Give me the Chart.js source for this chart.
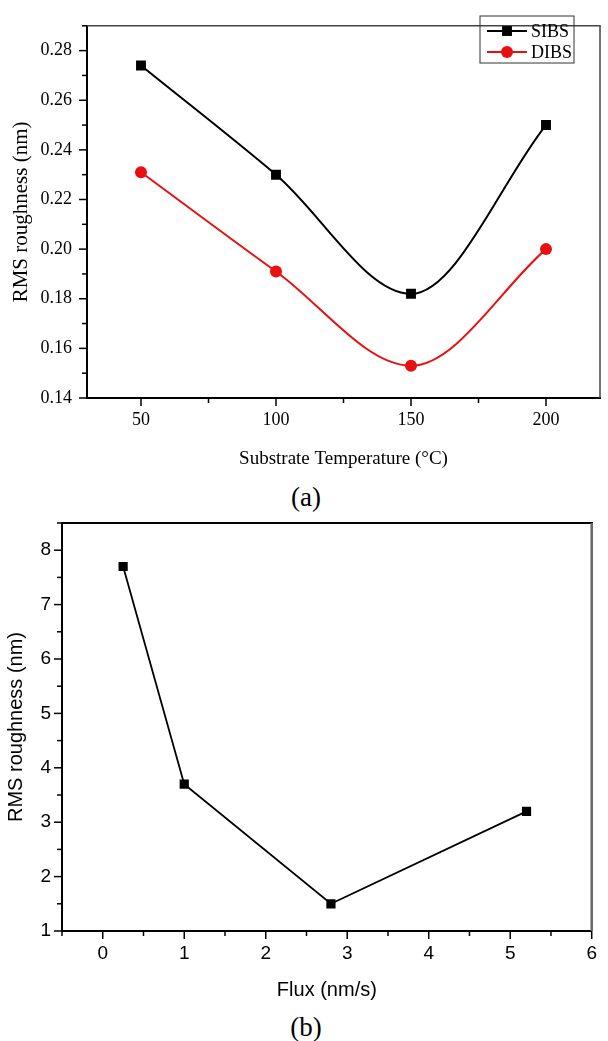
<!DOCTYPE html>
<html>
<head>
<meta charset="utf-8">
<script src="https://cdn.jsdelivr.net/npm/chart.js"></script>
<style>
  body { margin: 0; background: #fff; width: 608px; height: 1041px; position: relative; overflow: hidden; }
  canvas { position: absolute; left: 0; }
  .cap { position: absolute; left: 2px; width: 608px; text-align: center; color: #000;
         font-family: "Liberation Serif", serif; font-size: 27px; line-height: 30px; }
</style>
</head>
<body>
<canvas id="chartA" width="608" height="480" style="top:0"></canvas>
<div class="cap" style="top:482px">(a)</div>
<canvas id="chartB" width="608" height="510" style="top:500px"></canvas>
<div class="cap" style="top:1012px">(b)</div>

<script>
// (a) RMS roughness vs substrate temperature
var tempC = [50, 100, 150, 200];
var sibsRms = [0.274, 0.230, 0.182, 0.250];
var dibsRms = [0.231, 0.191, 0.153, 0.200];
var tempTicks = [50, 100, 150, 200];
var rmsTicksA = [0.14, 0.16, 0.18, 0.20, 0.22, 0.24, 0.26, 0.28];

// (b) RMS roughness vs flux
var flux = [0.25, 1, 2.8, 5.2];
var fluxRms = [7.7, 3.7, 1.5, 3.2];
var fluxTicks = [0, 1, 2, 3, 4, 5, 6];
var rmsTicksB = [1, 2, 3, 4, 5, 6, 7, 8];

var SERIF = '"Liberation Serif", "Times New Roman", serif';
var SANS = '"Liberation Sans", Arial, sans-serif';
var RED = '#e81010';

function toPoints(xs, ys) {
    return xs.map(function (x, i) { return {x: x, y: ys[i]}; });
}
function fixTicks(values) {
    return function (scale) {
        scale.ticks = values.map(function (v) { return {value: v}; });
    };
}
function fixWidth(w) {
    return function (scale) { scale.width = w; };
}
function fixHeight(h) {
    return function (scale) { scale.height = h; };
}

// box edges on top/right, plus outward major and minor tick marks
var frameAndTicks = {
    id: 'frameAndTicks',
    afterDraw: function (chart, args, opts) {
        var ctx = chart.ctx, a = chart.chartArea;
        ctx.save();
        ctx.lineWidth = opts.topWidth;
        ctx.strokeStyle = opts.topColor;
        ctx.beginPath(); ctx.moveTo(a.left, a.top); ctx.lineTo(a.right + opts.rightWidth / 2, a.top); ctx.stroke();
        ctx.lineWidth = opts.rightWidth;
        ctx.strokeStyle = opts.rightColor;
        ctx.beginPath(); ctx.moveTo(a.right, a.top); ctx.lineTo(a.right, a.bottom); ctx.stroke();

        ctx.strokeStyle = '#000';
        ctx.lineWidth = 1.5;
        ['x', 'y'].forEach(function (id) {
            var s = chart.scales[id];
            var px = s.ticks.map(function (t) { return s.getPixelForValue(t.value); });
            var marks = px.map(function (p) { return [p, 8]; });
            for (var i = 0; i < px.length - 1; i++) {
                marks.push([(px[i] + px[i + 1]) / 2, 5]);
            }
            var step = px[1] - px[0];
            marks.push([px[0] - step / 2, 5], [px[px.length - 1] + step / 2, 5]);
            marks.forEach(function (m) {
                ctx.beginPath();
                if (id === 'x') {
                    if (m[0] < a.left - 1 || m[0] > a.right + 1) return;
                    ctx.moveTo(m[0], a.bottom);
                    ctx.lineTo(m[0], a.bottom + m[1]);
                } else {
                    if (m[0] < a.top - 1 || m[0] > a.bottom + 1) return;
                    ctx.moveTo(a.left, m[0]);
                    ctx.lineTo(a.left - m[1], m[0]);
                }
                ctx.stroke();
            });
        });
        ctx.restore();
    }
};

// framed legend sitting inside the plot, top right
var boxLegend = {
    id: 'boxLegend',
    afterDraw: function (chart, args, opts) {
        if (!opts.show) return;
        var ctx = chart.ctx;
        ctx.save();
        ctx.strokeStyle = '#333';
        ctx.lineWidth = 1;
        ctx.strokeRect(opts.left, opts.top, opts.width, opts.height);
        ctx.font = opts.font;
        ctx.textBaseline = 'middle';
        ctx.textAlign = 'left';
        chart.data.datasets.forEach(function (ds, i) {
            var y = opts.top + opts.rowStart + i * opts.rowGap;
            var x0 = opts.left + 7, x1 = x0 + 40, xm = (x0 + x1) / 2;
            ctx.strokeStyle = ds.borderColor;
            ctx.fillStyle = ds.backgroundColor;
            ctx.lineWidth = ds.borderWidth;
            ctx.beginPath(); ctx.moveTo(x0, y); ctx.lineTo(x1, y); ctx.stroke();
            ctx.beginPath();
            if (ds.pointStyle === 'rect') {
                var h = ds.pointRadius * Math.SQRT1_2;
                ctx.rect(xm - h, y - h, 2 * h, 2 * h);
            } else {
                ctx.arc(xm, y, ds.pointRadius, 0, Math.PI * 2);
            }
            ctx.fill();
            ctx.fillStyle = '#000';
            ctx.fillText(ds.label, x1 + 4, y + 1);
        });
        ctx.restore();
    }
};

function axisFont(family, size) {
    return {family: family, size: size};
}

// Substrate temperature chart
var chartA = new Chart(document.getElementById('chartA'), {
    type: 'line',
    data: {
        datasets: [{
            label: 'SIBS',
            data: toPoints(tempC, sibsRms),
            borderColor: '#000',
            backgroundColor: '#000',
            borderWidth: 2,
            pointStyle: 'rect',
            pointRadius: 7,
            pointBorderWidth: 0,
            cubicInterpolationMode: 'monotone'
        }, {
            label: 'DIBS',
            data: toPoints(tempC, dibsRms),
            borderColor: RED,
            backgroundColor: RED,
            borderWidth: 2,
            pointStyle: 'circle',
            pointRadius: 6,
            pointBorderWidth: 0,
            cubicInterpolationMode: 'monotone'
        }]
    },
    options: {
        responsive: false,
        animation: false,
        devicePixelRatio: 1,
        layout: {padding: {left: 0, top: 8, right: 8, bottom: 0}},
        plugins: {
            legend: {display: false},
            tooltip: {enabled: false},
            frameAndTicks: {topColor: '#444', topWidth: 1.5, rightColor: '#444', rightWidth: 1.5},
            boxLegend: {show: true, left: 480, top: 16, width: 94, height: 47, rowStart: 15, rowGap: 21,
                        font: '18px ' + SERIF}
        },
        scales: {
            x: {
                type: 'linear',
                min: 30,
                max: 220,
                afterBuildTicks: fixTicks(tempTicks),
                afterFit: fixHeight(82),
                grid: {display: false, drawTicks: false},
                border: {color: '#000', width: 2},
                ticks: {padding: 11, color: '#000', maxRotation: 0, font: axisFont(SERIF, 18)},
                title: {display: true, text: 'Substrate Temperature (°C)', color: '#000',
                        font: axisFont(SERIF, 19), padding: {top: 0, bottom: 10}}
            },
            y: {
                min: 0.14,
                max: 0.29,
                afterBuildTicks: fixTicks(rmsTicksA),
                afterFit: fixWidth(87),
                grid: {display: false, drawTicks: false},
                border: {color: '#000', width: 2},
                ticks: {padding: 15, color: '#000', font: axisFont(SERIF, 18),
                        callback: function (v) { return v.toFixed(2); }},
                title: {display: true, text: 'RMS roughness (nm)', color: '#000',
                        font: axisFont(SERIF, 21), padding: {top: 9, bottom: 0}}
            }
        }
    },
    plugins: [frameAndTicks, boxLegend]
});

// Flux chart
var chartB = new Chart(document.getElementById('chartB'), {
    type: 'line',
    data: {
        datasets: [{
            label: 'RMS roughness',
            data: toPoints(flux, fluxRms),
            borderColor: '#000',
            backgroundColor: '#000',
            borderWidth: 1.8,
            pointStyle: 'rect',
            pointRadius: 6.5,
            pointBorderWidth: 0,
            tension: 0
        }]
    },
    options: {
        responsive: false,
        animation: false,
        devicePixelRatio: 1,
        layout: {padding: {left: 0, top: 23, right: 7, bottom: 0}},
        plugins: {
            legend: {display: false},
            tooltip: {enabled: false},
            frameAndTicks: {topColor: '#000', topWidth: 2, rightColor: '#666', rightWidth: 2.5},
            boxLegend: {show: false}
        },
        scales: {
            x: {
                type: 'linear',
                min: -0.5,
                max: 6,
                afterBuildTicks: fixTicks(fluxTicks),
                afterFit: fixHeight(79),
                grid: {display: false, drawTicks: false},
                border: {color: '#000', width: 2},
                ticks: {padding: 11, color: '#000', maxRotation: 0, font: axisFont(SANS, 19)},
                title: {display: true, text: 'Flux (nm/s)', color: '#000',
                        font: axisFont(SANS, 20), padding: {top: 0, bottom: 8}}
            },
            y: {
                min: 1,
                max: 8.5,
                afterBuildTicks: fixTicks(rmsTicksB),
                afterFit: fixWidth(62),
                grid: {display: false, drawTicks: false},
                border: {color: '#000', width: 2},
                ticks: {padding: 11, color: '#000', font: axisFont(SANS, 19)},
                title: {display: true, text: 'RMS roughness (nm)', color: '#000',
                        font: axisFont(SANS, 20), padding: {top: 4, bottom: 0}}
            }
        }
    },
    plugins: [frameAndTicks, boxLegend]
});
</script>
</body>
</html>
